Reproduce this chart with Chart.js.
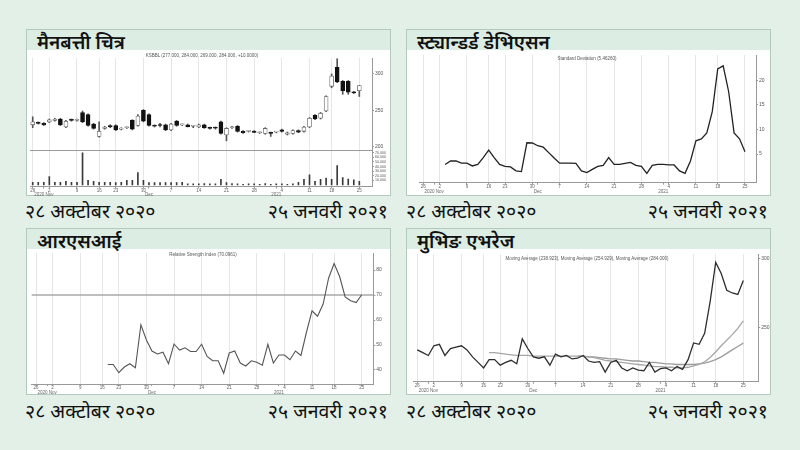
<!DOCTYPE html>
<html><head><meta charset="utf-8">
<script src="https://cdn.jsdelivr.net/npm/chart.js@4.4.1/dist/chart.umd.min.js"></script>
<style>
html,body{margin:0;padding:0;background:#e2f0e8;width:800px;height:450px;overflow:hidden;}
#root{position:relative;width:800px;height:450px;font-family:'Noto Sans Devanagari','Lohit Devanagari','Mukta','Noto Sans',sans-serif;}
.box{position:absolute;width:365px;height:167px;border:1px solid #b3c9bc;background:#fff;box-sizing:border-box;}
.band{position:absolute;left:0;top:0;right:0;height:20px;background:#dcede3;}
.ttl{position:absolute;left:10px;top:5px;font-size:19px;line-height:20px;font-weight:600;color:#111;white-space:nowrap;}
canvas{position:absolute;}
.date{position:absolute;font-size:19.5px;line-height:22px;color:#111;white-space:nowrap;}
.sub{position:absolute;font-family:'Liberation Sans',Arial,sans-serif;font-size:4.5px;line-height:5px;color:#555;white-space:nowrap;transform:translate(-50%,-50%);}
</style></head>
<body><div id="root">
  <div class="box" style="left:26px;top:29px"><div class="band"><div class="ttl">मैनबत्ती चित्र</div></div></div>
  <div class="box" style="left:406px;top:29px"><div class="band"><div class="ttl">स्ट्यान्डर्ड डेभिएसन</div></div></div>
  <div class="box" style="left:26px;top:228px"><div class="band"><div class="ttl">आरएसआई</div></div></div>
  <div class="box" style="left:406px;top:228px"><div class="band"><div class="ttl">मुभिङ एभरेज</div></div></div>

  <canvas id="c1" width="364" height="146" style="left:27px;top:50px"></canvas>
  <canvas id="c2" width="364" height="146" style="left:407px;top:50px"></canvas>
  <canvas id="c3" width="364" height="146" style="left:27px;top:249px"></canvas>
  <canvas id="c4" width="364" height="146" style="left:407px;top:249px"></canvas>

  <div class="sub" style="left:202px;top:55px">KSBBL (277.000, 284.000, 269.000, 284.000, +10.0000)</div>
  <div class="sub" style="left:587px;top:58px">Standard Deviation (5.46260)</div>
  <div class="sub" style="left:203px;top:254px">Relative Strength Index (70.0961)</div>
  <div class="sub" style="left:587px;top:258px">Moving Average (238.923), Moving Average (254.929), Moving Average (284.000)</div>

  <div class="date" style="left:25px;top:203px">२८ अक्टोबर २०२०</div>
  <div class="date" style="right:412px;top:203px">२५ जनवरी २०२१</div>
  <div class="date" style="left:406px;top:203px">२८ अक्टोबर २०२०</div>
  <div class="date" style="right:32px;top:203px">२५ जनवरी २०२१</div>
  <div class="date" style="left:25px;top:403px">२८ अक्टोबर २०२०</div>
  <div class="date" style="right:412px;top:403px">२५ जनवरी २०२१</div>
  <div class="date" style="left:406px;top:403px">२८ अक्टोबर २०२०</div>
  <div class="date" style="right:32px;top:403px">२५ जनवरी २०२१</div>
</div>
<script>
// ---- categories (trading days) ----
const days = ['10-28','10-29','11-01','11-02','11-03','11-04','11-05','11-08','11-09','11-10',
  '11-11','11-12','11-18','11-19','11-22','11-23','11-24','11-25','11-26','11-29',
  '11-30','12-01','12-02','12-03','12-06','12-07','12-08','12-09','12-10','12-13',
  '12-14','12-15','12-16','12-17','12-20','12-21','12-22','12-23','12-24','12-27',
  '12-28','12-29','12-30','12-31','01-03','01-04','01-05','01-06','01-07','01-10',
  '01-11','01-12','01-13','01-17','01-18','01-19','01-20','01-21','01-24','01-25'];

// ---- tick labels ----
const weekTickIdx = [0,3,8,12,15,20,25,30,35,40,45,50,54,59];
const weekTickLabels = ['26','2','9','16','23','30','7','14','21','28','4','11','18','25'];
const monthTickIdx = [2,21,44];
const monthTickLabels = ['2020 Nov','Dec','2021'];
const priceTicks = [200,250,300];
const volumeTicks = [10000,20000,30000,40000,50000,60000,70000];
const stdTicks = [5,10,15,20];
const rsiTicks = [40,50,60,70,80];
const maTicks = [250,300];
const rsiLevel = 70;

// ---- candle series ----
const opens = [230,233,232,234,236,238,227,237.5,236,247,244,231,214,225,229,229,224,226,236,229,
  250,244,229,230,230,223,235,230,230,228,227,230,226,226,234,216,226,228,221,221,
  221,219,218,219.5,220,223,217,218,222,221,227,243,239,249,283,309,290,290,275,277];
const highs = [241,234,233,238,239,239,236,238,238,249,245,232,234,228,230,230,226,227,237,244,
  251,245,230,232,231,232,236,231,231,229,231,231,227,227,235,226,228,229,222,222,
  222,220,226,220,221,224,220,223,223,228,240,244,247,270,300,321,291,291,276,284];
const lows = [226,231,229,233,235,229,226,235,235,233,228,224,213,224,226,222,223,225,223,228,
  234,228,227,227,222,222,228,229,227,226,226,225,224,224,217,208,225,220,218,220,
  219,218,217,214,219,220,216,217,219,220,226,237,238,248,281,288,272,272,273,269];
const closes = [234,232,230,237,238,230,235,236,237,234,229,225,221,227,227,223,225,226.5,224,242,
  235,229,228,229,223,231,229,230,227.5,228,230,226,225,225.5,218,225,226.5,221,219,221,
  219.5,219,225,218,220.5,221,219,222,220,227,239,238,246,269,297,289,277,275,274,284];
const volumes = [6000,6000,6000,18000,6000,6000,8000,6000,6000,70000,10000,8000,6000,6000,6000,5000,6000,10000,10000,27000,
  10000,5000,5000,5000,5000,5000,5000,6000,2500,2500,2500,3000,2500,2500,12000,5000,3000,2500,1500,2500,
  2500,1500,3000,1500,2500,2500,1500,2500,6000,12000,22000,8000,12000,15000,12000,42000,16000,13000,11000,8000];

// ---- indicator series ----
const stdDev = [null,null,null,null,
  2.9,3.6,3.6,3.15,3.15,2.6,2.9,4.3,5.8,4.3,2.9,2.5,2.4,1.6,1.45,7.3,7.25,6.7,6.4,5.3,
  4.2,3.15,3.15,3.15,3.1,1.6,1.25,1.9,2.5,2.7,4.3,2.9,2.9,3.1,3.3,2.7,2.5,1.1,2.7,2.9,
  2.9,2.8,2.8,1.6,1.1,3.6,7.7,8.1,9.3,13.6,22.3,22.9,17.7,9.3,8.1,5.46];
const rsi = [null,null,null,null,null,null,null,null,null,null,null,null,null,
  42.2,42.2,38.9,41.2,42.5,40.9,58.1,52,47.6,46.4,47.1,42.5,50.4,48,48.9,47.4,47.4,50.3,
  45.4,43.7,43.7,38.7,46.8,47.6,42.8,41.6,43.7,43.1,41.9,50.3,42.8,46,46,44.1,47.6,45.8,
  55.2,63.7,61.5,66.3,76.7,82.6,77.4,69.2,67.7,67,70.1];
const maShort = [null,null,null,null,null,null,null,null,null,null,null,null,null,
  232,232,231.5,231,230.5,230,230,230,229.5,229.5,229.5,229.5,229.5,229.5,229.5,229.5,229.5,229.5,
  229,228.5,227.5,226.5,226,225.5,225,224.5,224,223.5,223,222.5,222,222,221.5,221.5,221,221,221.5,
  222.5,223.5,225.5,228.5,232.5,237,241,245,249.5,254.9];
const maLong = [null,null,null,null,null,null,null,null,null,null,null,null,null,null,null,null,null,null,null,null,
  null,null,null,null,null,null,null,null,null,
  229.5,229.5,229,229,228.5,228,227.5,227.5,227,226.5,226,226,225.5,225,225,224.5,224,224,223.5,223.5,
  223.5,223.5,224,224.5,225.5,227,229,231.5,234,236.5,238.9];

const FF = "'Liberation Sans', Arial, sans-serif";
Chart.defaults.font.family = FF;
Chart.defaults.animation = false;

function pts(arr){ return arr.map((v,i)=>({x:i,y:v})); }

function xAxis(min,max,h){
  const all = [...new Set([...weekTickIdx,...monthTickIdx])].sort((a,b)=>a-b);
  return {
    type:'linear', position:'bottom', min, max, offset:false,
    afterBuildTicks(s){ s.ticks = all.map(v=>({value:v})); },
    afterFit(s){ s.height = h; },
    ticks:{ autoSkip:false, maxRotation:0, minRotation:0, padding:0, color:'#666',
      font:{size:4.5, lineHeight:1},
      callback(v){ const w = weekTickIdx.indexOf(v), m = monthTickIdx.indexOf(v);
        return [w>=0?weekTickLabels[w]:'', m>=0?monthTickLabels[m]:'']; } },
    grid:{ offset:false, tickLength:2, tickColor:'#999',
      color: c => (c.tick && weekTickIdx.includes(c.tick.value)) ? '#e6e6e6' : 'rgba(0,0,0,0)' },
    border:{ color:'#999', width:1 }
  };
}
function yAxis(min,max,tickArr,w,extra){
  return Object.assign({
    type:'linear', position:'right', min, max, beginAtZero:false,
    afterBuildTicks(s){ s.ticks = tickArr.map(v=>({value:v})); },
    afterFit(s){ s.width = w; },
    ticks:{ autoSkip:false, padding:1, color:'#555', font:{size:5} },
    grid:{ drawOnChartArea:false, tickLength:2, tickColor:'#999' },
    border:{ color:'#999', width:1 }
  }, extra||{});
}
const common = (pad) => ({
  responsive:false, devicePixelRatio:1, animation:false, events:[],
  layout:{ padding: pad },
  plugins:{ legend:{display:false}, tooltip:{enabled:false}, title:{display:false} }
});

// separator between price and volume panes
const separator = { id:'sep', afterDatasetsDraw(chart){
  const s = chart.scales.yv, a = chart.chartArea, ctx = chart.ctx;
  ctx.save(); ctx.strokeStyle = '#9a9a9a'; ctx.lineWidth = 1;
  ctx.beginPath(); ctx.moveTo(a.left, Math.round(s.top)+0.5); ctx.lineTo(a.right, Math.round(s.top)+0.5); ctx.stroke(); ctx.restore();
}};
const levelLine = { id:'lvl', beforeDatasetsDraw(chart){
  const y = chart.scales.y.getPixelForValue(rsiLevel), a = chart.chartArea, ctx = chart.ctx;
  ctx.save(); ctx.strokeStyle = '#a8a8a8'; ctx.lineWidth = 1.5;
  ctx.beginPath(); ctx.moveTo(a.left, y); ctx.lineTo(a.right, y); ctx.stroke(); ctx.restore();
}};

// ---- Chart 1: candlestick + volume ----
const upCol = i => closes[i] >= opens[i];
new Chart(document.getElementById('c1'), {
  type:'bar',
  data:{ datasets:[
    { label:'body', data: days.map((d,i)=>({x:i, y:[opens[i], closes[i]]})), yAxisID:'y', grouped:false,
      barThickness:4, minBarLength:1, borderSkipped:false, borderWidth:0.8, order:0,
      backgroundColor: c => upCol(c.dataIndex) ? '#ffffff' : '#111111',
      borderColor: c => upCol(c.dataIndex) ? '#6a6a6a' : '#111111' },
    { label:'wick', data: days.map((d,i)=>({x:i, y:[lows[i], highs[i]]})), yAxisID:'y', grouped:false,
      barThickness:1, backgroundColor:'#555', order:1 },
    { label:'volume', data: days.map((d,i)=>({x:i, y:volumes[i]})), yAxisID:'yv', grouped:false,
      barThickness:1, backgroundColor:'#3a3a3a', order:2 }
  ]},
  options: Object.assign(common({left:3,right:1,top:8,bottom:0}), {
    scales:{
      x: xAxis(-0.49, 61.29, 9.5),
      y: yAxis(195.3, 322, priceTicks, 18, {stack:'p', stackWeight:92}),
      yv: yAxis(-3300, 75900, volumeTicks, 18, {stack:'p', stackWeight:36.5,
        ticks:{ autoSkip:false, padding:1, color:'#555', font:{size:3.6} } })
    }
  }),
  plugins:[separator]
});

// ---- Chart 2: standard deviation ----
new Chart(document.getElementById('c2'), {
  type:'line',
  data:{ datasets:[{ label:'Standard Deviation', data: pts(stdDev), borderColor:'#222', borderWidth:1.3,
    pointRadius:0, tension:0, fill:false }]},
  options: Object.assign(common({left:12.3,right:1,top:5,bottom:1.3}), {
    scales:{ x: xAxis(-0.73, 61.02, 12), y: yAxis(-0.8, 25.1, stdTicks, 14) }
  })
});

// ---- Chart 3: RSI ----
new Chart(document.getElementById('c3'), {
  type:'line',
  data:{ datasets:[{ label:'RSI', data: pts(rsi), borderColor:'#555', borderWidth:1.1,
    pointRadius:0, tension:0, fill:false }]},
  options: Object.assign(common({left:4.7,right:1,top:2,bottom:0}), {
    scales:{ x: xAxis(-0.78, 61.10, 11), y: yAxis(34.4, 86.8, rsiTicks, 16.7) }
  }),
  plugins:[levelLine]
});

// ---- Chart 4: moving averages ----
new Chart(document.getElementById('c4'), {
  type:'line',
  data:{ datasets:[
    { label:'Close', data: pts(closes), borderColor:'#2e2e2e', borderWidth:1.3, pointRadius:0, tension:0 },
    { label:'MA short', data: pts(maShort), borderColor:'#a6a6a6', borderWidth:1.3, pointRadius:0, tension:0 },
    { label:'MA long', data: pts(maLong), borderColor:'#9c9c9c', borderWidth:1.3, pointRadius:0, tension:0 }
  ]},
  options: Object.assign(common({left:6.3,right:1,top:5,bottom:1.3}), {
    scales:{ x: xAxis(-0.72, 61.71, 12), y: yAxis(211.1, 303.1, maTicks, 11.7) }
  })
});
</script>
</body></html>
